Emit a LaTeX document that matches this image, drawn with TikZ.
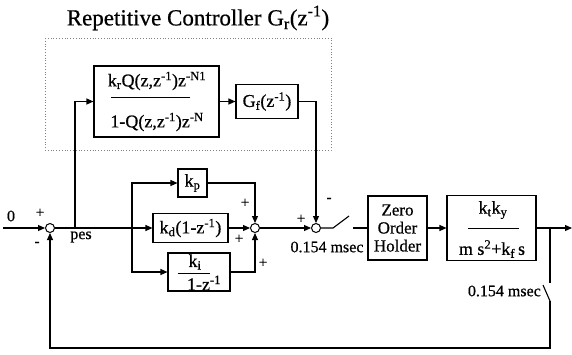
\documentclass[tikz,border=0pt]{standalone}
\usepackage{fontspec}
\setmainfont{Liberation Serif}
\newfontfamily\tms{Liberation Serif}[FakeBold=0.6]
\usetikzlibrary{arrows.meta}
\newcommand{\sbs}[1]{\textsubscript{#1}}
\newcommand{\sps}[1]{\textsuperscript{#1}}
\begin{document}
\begin{tikzpicture}[x=1pt,y=-1pt,
  blk/.style={draw,line width=1.1pt,inner sep=0pt},
  sumpt/.style={draw,circle,line width=1pt,minimum size=9pt,inner sep=0pt,fill=white},
  wire/.style={line width=1.1pt},
  arr/.style={wire,-{Triangle[length=7pt,width=6pt]}},
  lbl/.style={font=\tms\fontsize{16}{18}\selectfont,inner sep=0pt},
  sgn/.style={font=\tms\fontsize{15}{16}\selectfont,inner sep=0pt},
  btxt/.style={font=\tms\fontsize{18}{18}\selectfont,inner sep=0pt},
  fracline/.style={line width=0.8pt}]
\useasboundingbox (0,0) rectangle (572,354);
\node[font=\tms\fontsize{23}{26}\selectfont] (title) at (198,18) {Repetitive Controller G\sbs{r}(z\sps{-1})};
\draw[dotted,gray,line width=0.8pt] (45,38) rectangle (331,150);
% blocks
\node[sumpt] (s1) at (50,228) {};
\coordinate (in) at (3,228);
\node[lbl] (zero) at (11,216) {0};
\node[blk,minimum width=125pt,minimum height=71pt] (rep) at (156.5,101.5) {};
\node[btxt] (repn) at (157,81) {k\sbs{r}Q(z,z\sps{-1})z\sps{-N1}};
\draw[fracline] (111,97) -- (190,97);
\node[btxt] (repd) at (157,122) {1-Q(z,z\sps{-1})z\sps{-N}};
\node[blk,btxt,minimum width=62pt,minimum height=34pt] (gf) at (267,101.5) {G\sbs{f}(z\sps{-1})};
\node[sumpt] (s2) at (316,228) {};
\node[blk,btxt,minimum width=29pt,minimum height=28pt] (kp) at (192.5,183) {k\sbs{p}};
\node[blk,btxt,minimum width=75pt,minimum height=29pt] (kd) at (190.5,228) {k\sbs{d}(1-z\sps{-1})};
\node[blk,minimum width=62pt,minimum height=38pt] (ki) at (199,272) {};
\node[btxt] (kin) at (195,262) {k\sbs{i}};
\draw[fracline] (178,273) -- (210,273);
\node[btxt] (kid) at (204,283) {1-z\sps{-1}};
\node[sumpt] (s3) at (255,228) {};
\node[blk,minimum width=59pt,minimum height=64pt,align=center,font=\tms\fontsize{17}{18}\selectfont] (zoh) at (397.5,228) {Zero\\Order\\Holder};
\node[blk,minimum width=89pt,minimum height=65pt] (plant) at (491.5,228) {};
\node[btxt] (pn) at (493,210) {k\sbs{t}k\sbs{y}};
\draw[fracline] (468,228) -- (519,228);
\node[btxt] (pd) at (492,249) {m s\sps{2}+k\sbs{f}\,s};
\coordinate (out) at (572,228);
% wires
\coordinate (b1) at (75,228);
\coordinate (b2) at (132,228);
\draw[arr] (in) -- (s1);
\draw[arr] (s1) -- (kd);
\draw[arr] (b1) |- (rep);
\draw[arr] (b2) |- (kp);
\draw[arr] (b2) |- (ki);
\draw[arr] (rep) -- (gf);
\draw[arr] (gf) -| (s2);
\draw[arr] (kp) -| (s3);
\draw[arr] (kd) -- (s3);
\draw[arr] (ki) -| (s3);
\draw[arr] (s3) -- (s2);
\coordinate (sw1a) at (333,228);
\coordinate (sw1b) at (349,216);
\coordinate (sw1c) at (353,228);
\draw[wire] (s2) -- (sw1a) -- (sw1b);
\draw[wire] (sw1c) -- (zoh);
\draw[arr] (zoh) -- (plant);
\draw[arr] (plant) -- (out);
\coordinate (b3) at (550,228);
\coordinate (sw2a) at (550,283);
\coordinate (sw2t) at (543,285);
\coordinate (sw2p) at (550,301);
\coordinate (fb) at (550,348);
\draw[wire] (b3) -- (sw2a);
\draw[wire] (sw2t) -- (sw2p);
\draw[arr] (sw2p) -- (fb) -| (s1);
% labels
\node[sgn] (p1) at (40,213) {+};
\node[sgn] (m1) at (37,244) {-};
\node[lbl] (pes) at (81,237) {pes};
\node[sgn] (p3a) at (245,203) {+};
\node[sgn] (p3b) at (239,239) {+};
\node[sgn] (p3c) at (263,263) {+};
\node[sgn] (p2) at (301,219) {+};
\node[sgn] (m2) at (329,200) {-};
\node[lbl] (t1) at (327,247) {0.154 msec};
\node[lbl,anchor=east] (t2) at (541,291) {0.154 msec};
\end{tikzpicture}
\end{document}
